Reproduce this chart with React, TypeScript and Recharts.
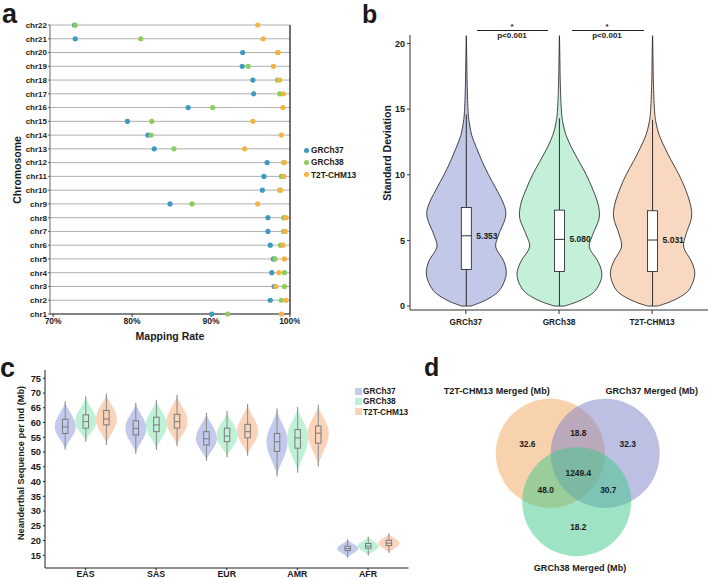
import React from 'react'
import { ScatterChart, Scatter, BarChart, Bar, XAxis, YAxis, CartesianGrid, ReferenceLine, Surface, Dot } from 'recharts'

const FONT = '"Liberation Sans", Arial, Helvetica, sans-serif'

// ---- panel a: mapping rate per chromosome ----
const chromosomes = ['chr1', 'chr2', 'chr3', 'chr4', 'chr5', 'chr6', 'chr7', 'chr8', 'chr9', 'chr10', 'chr11',
  'chr12', 'chr13', 'chr14', 'chr15', 'chr16', 'chr17', 'chr18', 'chr19', 'chr20', 'chr21', 'chr22']
const mapGRCh37 = [90.1, 97.5, 98.0, 97.7, 97.9, 97.5, 97.2, 97.2, 84.8, 96.5, 96.7, 97.1, 82.8, 82.0, 79.4, 87.1, 95.4, 95.3, 93.95, 94.0, 72.8, 72.7]
const mapGRCh38 = [92.1, 98.9, 99.3, 99.3, 98.1, 98.8, 99.2, 99.2, 87.6, 98.7, 98.9, 99.2, 85.3, 82.4, 82.5, 90.2, 98.7, 98.4, 94.7, 98.45, 81.1, 72.8]
const mapT2T = [98.9, 99.5, 98.2, 98.6, 99.3, 99.1, 99.4, 99.5, 95.9, 98.8, 99.2, 99.3, 94.25, 98.9, 95.3, 99.1, 99.15, 98.7, 97.9, 98.5, 96.6, 95.9]
const rateTicks = [70, 80, 90, 100]

// ---- panel b: standard deviation violins ----
const refNames = ['GRCh37', 'GRCh38', 'T2T-CHM13']
const sdQ1 = [2.79, 2.64, 2.64]
const sdMedian = [5.353, 5.08, 5.031]
const sdQ3 = [7.51, 7.31, 7.26]
const sdWhiskerHi = [14.6, 14.3, 14.2]
const sdMin = [0, 0, 0]
const sdMax = [20.6, 20.6, 20.6]
const sdGrid = [0, 0.3, 0.7, 1.2, 2, 2.7, 3.5, 4.5, 5.5, 6.5, 7.2, 8, 9, 10, 11, 12, 13, 14, 15, 17, 19, 20.6]
const sdDens37 = [0.11, 0.36, 0.6, 0.79, 0.92, 0.95, 0.88, 0.7, 0.78, 0.91, 0.94, 0.86, 0.7, 0.53, 0.38, 0.25, 0.13, 0.07, 0.04, 0.02, 0.01, 0]
const sdDens38 = [0.12, 0.4, 0.66, 0.86, 0.99, 1.0, 0.9, 0.71, 0.8, 0.93, 0.95, 0.9, 0.78, 0.64, 0.47, 0.3, 0.16, 0.08, 0.045, 0.02, 0.01, 0]
const sdDensT2T = [0.12, 0.4, 0.66, 0.86, 0.98, 1.0, 0.91, 0.74, 0.8, 0.91, 0.93, 0.88, 0.77, 0.63, 0.46, 0.3, 0.16, 0.08, 0.045, 0.02, 0.01, 0]
const sdTicks = [0, 5, 10, 15, 20]

// ---- panel c: neanderthal sequence per individual, [min, q1, median, q3, max] ----
const populations = ['EAS', 'SAS', 'EUR', 'AMR', 'AFR']
const neanGRCh37 = [[50.8, 56.3, 58.5, 61.1, 67.2], [49.4, 55.8, 58.0, 60.6, 66.7], [47.0, 52.4, 54.5, 56.9, 63.3], [41.7, 50.2, 53.5, 56.3, 64.7], [14.2, 16.6, 17.3, 18.1, 20.4]]
const neanGRCh38 = [[53.5, 58.1, 60.3, 62.6, 68.9], [50.7, 56.9, 59.2, 61.8, 67.7], [48.2, 53.5, 55.4, 58.1, 63.9], [43.0, 51.3, 54.8, 57.6, 65.3], [14.9, 17.4, 18.1, 19.0, 21.3]]
const neanT2T = [[52.4, 59.2, 61.2, 64.1, 69.8], [52.0, 58.1, 60.3, 62.8, 69.4], [48.7, 54.8, 56.9, 59.4, 66.3], [45.0, 53.0, 56.4, 58.8, 66.0], [15.8, 18.3, 19.1, 20.1, 22.4]]
const neanTicks = [15, 20, 25, 30, 35, 40, 45, 50, 55, 60, 65, 70, 75]

// ---- panel d: merged regions (Mb) ----
const vennSets = ['T2T-CHM13 Merged (Mb)', 'GRCh37 Merged (Mb)', 'GRCh38 Merged (Mb)']
const vennRegions = ['T2T only', 'T2T&37', '37 only', 'all', 'T2T&38', '37&38', '38 only']
const vennValues = ['32.6', '18.8', '32.3', '1249.4', '48.0', '30.7', '18.2']

const DOT_COLORS = ['#3d9bbf', '#8ccc5e', '#f5b342']
const VIOLIN_B = ['#c2c8e7', '#c4f0da', '#f9d8c1']
const VIOLIN_C = ['#c4caec', '#bff1d6', '#fad4ba']
const VENN_COLORS = ['#f2a65a', '#7b7fc8', '#3ec889']

const bold = (size: number) => ({ fontFamily: FONT, fontWeight: 700, fontSize: size, fill: '#1a1a1a' })

function smoothPath(pts: number[][]) {
  let d = `M${pts[0][0]},${pts[0][1]}`
  for (let i = 0; i < pts.length - 1; i++) {
    const p0 = pts[i - 1] || pts[i]
    const p1 = pts[i]
    const p2 = pts[i + 1]
    const p3 = pts[i + 2] || p2
    const c1x = p1[0] + (p2[0] - p0[0]) / 6
    const c1y = p1[1] + (p2[1] - p0[1]) / 6
    const c2x = p2[0] - (p3[0] - p1[0]) / 6
    const c2y = p2[1] - (p3[1] - p1[1]) / 6
    d += ` C${c1x},${c1y} ${c2x},${c2y} ${p2[0]},${p2[1]}`
  }
  return d + ' Z'
}

function Label({ x, y, size, text, rotate, align = 'center' }: any) {
  const tx = align === 'center' ? '-50%' : '0'
  return (
    <div style={{
      position: 'absolute', left: x, top: y, whiteSpace: 'nowrap', fontFamily: FONT, fontWeight: 700,
      fontSize: size, color: '#1a1a1a', lineHeight: 1,
      transform: `translate(${tx}, -50%)${rotate ? ' rotate(-90deg)' : ''}`,
      transformOrigin: align === 'center' ? 'center' : 'left center',
    }}>{text}</div>
  )
}

function PanelA() {
  const chrIndex = chromosomes.map((_, i) => i + 1)
  const series = [mapGRCh37, mapGRCh38, mapT2T].map((vals, s) => ({
    name: refNames[s],
    color: DOT_COLORS[s],
    data: vals.map((v, i) => ({ x: v, y: i + 1 })),
  }))
  return (
    <div style={{ position: 'absolute', left: 0, top: 0 }}>
      <ScatterChart width={300} height={345} margin={{ top: 25, right: 10, bottom: 11, left: 10 }}>
        <CartesianGrid vertical={false} stroke="#9a9a9a" strokeWidth={0.8} />
        <XAxis type="number" dataKey="x" domain={[69.6, 100]} ticks={rateTicks} tickFormatter={(v) => `${v}%`}
          height={20} tickSize={3} tickMargin={1} stroke="#333" tick={bold(8.5)} />
        <YAxis type="number" dataKey="y" domain={[1, 22]} ticks={chrIndex} interval={0} width={40}
          tickFormatter={(v) => chromosomes[v - 1]} tickSize={2} tickMargin={1} stroke="#666" tick={bold(8)} />
        <ReferenceLine x={100} stroke="#111" strokeWidth={1.2} />
        {series.map((s) => (
          <Scatter key={s.name} name={s.name} data={s.data} fill={s.color} isAnimationActive={false}
            shape={(p: any) => <circle cx={p.cx} cy={p.cy} r={2.6} fill={s.color} />} />
        ))}
      </ScatterChart>
      <Label x={170} y={336} size={10.5} text="Mapping Rate" />
      <Label x={17} y={170} size={10.5} text="Chromosome" rotate />
      {refNames.map((n, i) => (
        <React.Fragment key={n}>
          <div style={{ position: 'absolute', left: 304, top: 147.5 + i * 12.3, width: 5, height: 5, borderRadius: 3, background: DOT_COLORS[i] }} />
          <Label x={311} y={150 + i * 12.3} size={8.3} text={n} align="left" />
        </React.Fragment>
      ))}
    </div>
  )
}

function ViolinB(props: any) {
  const { x, y, width, height, payload, index } = props
  const lo = payload.range[0]
  const hi = payload.range[1]
  const py = (v: number) => y + ((hi - v) / (hi - lo)) * height
  const cx = x + width / 2
  const half = 42
  const dens = payload.density as number[]
  const right = sdGrid.map((v, i) => [cx + dens[i] * half, py(v)])
  const left = sdGrid.map((v, i) => [cx - dens[i] * half, py(v)]).reverse()
  const outline = smoothPath(right.concat(left.slice(1)))
  return (
    <g>
      <path d={outline} fill={VIOLIN_B[index]} stroke="#1a1a1a" strokeWidth={0.8} />
      <line x1={cx} x2={cx} y1={py(lo)} y2={py(payload.q1)} stroke="#1a1a1a" strokeWidth={0.9} />
      <line x1={cx} x2={cx} y1={py(payload.q3)} y2={py(payload.whisker)} stroke="#1a1a1a" strokeWidth={0.9} />
      <rect x={cx - 5} y={py(payload.q3)} width={10} height={py(payload.q1) - py(payload.q3)} fill="#fff" stroke="#1a1a1a" strokeWidth={0.8} />
      <line x1={cx - 5} x2={cx + 5} y1={py(payload.median)} y2={py(payload.median)} stroke="#1a1a1a" strokeWidth={0.9} />
      <text x={cx + 10} y={py(payload.median)} dominantBaseline="central" {...bold(8.5)}>{payload.median.toFixed(3)}</text>
    </g>
  )
}

function PanelB() {
  const dens = [sdDens37, sdDens38, sdDensT2T]
  const data = refNames.map((n, i) => ({
    name: n, range: [sdMin[i], sdMax[i]], q1: sdQ1[i], median: sdMedian[i], q3: sdQ3[i], whisker: sdWhiskerHi[i], density: dens[i],
  }))
  return (
    <div style={{ position: 'absolute', left: 330, top: 0 }}>
      <BarChart width={378} height={345} data={data} margin={{ top: 35, right: 0, bottom: 15, left: 50 }}>
        <XAxis dataKey="name" height={20} padding={{ left: 9.3, right: 9.3 }} tickSize={4} tickMargin={5} stroke="#333" tick={bold(8.3)} />
        <YAxis type="number" domain={[-0.3, 20.65]} ticks={sdTicks} width={30} tickSize={3} tickMargin={2} stroke="#333" tick={bold(9)} allowDataOverflow />
        <Bar dataKey="range" barSize={10} isAnimationActive={false} shape={ViolinB} />
      </BarChart>
      <svg style={{ position: 'absolute', left: 0, top: 0 }} width={378} height={60}>
        <line x1={147} x2={218} y1={30.5} y2={30.5} stroke="#222" strokeWidth={1} />
        <line x1={242} x2={314} y1={30.5} y2={30.5} stroke="#222" strokeWidth={1} />
        <text x={182} y={29} textAnchor="middle" {...bold(8)}>*</text>
        <text x={277} y={29} textAnchor="middle" {...bold(8)}>*</text>
        <text x={182} y={35} textAnchor="middle" dominantBaseline="central" {...bold(8)}>p&lt;0.001</text>
        <text x={277} y={35} textAnchor="middle" dominantBaseline="central" {...bold(8)}>p&lt;0.001</text>
      </svg>
      <Label x={57} y={153} size={10.5} text="Standard Deviation" rotate />
    </div>
  )
}

function makeViolinC(ref: number, key: string) {
  return (props: any) => {
    const { x, y, width, height, payload } = props
    const st = payload[key] as number[]
    const [mn, q1, med, q3, mx] = st
    const py = (v: number) => y + ((mx - v) / (mx - mn)) * height
    const cx = x + width / 2
    const half = 10.5
    const steps = 24
    const right: number[][] = []
    for (let k = 0; k <= steps; k++) {
      const v = mn + ((mx - mn) * k) / steps
      const t = v <= med ? (v - mn) / (med - mn) : (mx - v) / (mx - med)
      const w = Math.pow(Math.sin((Math.PI / 2) * Math.max(0, Math.min(1, t))), 1.6)
      right.push([cx + w * half, py(v)])
    }
    const left = right.map(([px, pyv]) => [2 * cx - px, pyv]).reverse()
    const outline = smoothPath(right.concat(left.slice(1, left.length - 1)))
    const bw = 5.5
    return (
      <g>
        <path d={outline} fill={VIOLIN_C[ref]} stroke="none" />
        <line x1={cx} x2={cx} y1={py(mn)} y2={py(q1)} stroke="#8a8a8a" strokeWidth={1} />
        <line x1={cx} x2={cx} y1={py(q3)} y2={py(mx)} stroke="#8a8a8a" strokeWidth={1} />
        <rect x={cx - bw / 2} y={py(q3)} width={bw} height={py(q1) - py(q3)} fill="none" stroke="#7a7a7a" strokeWidth={1} />
        <line x1={cx - bw / 2} x2={cx + bw / 2} y1={py(med)} y2={py(med)} stroke="#7a7a7a" strokeWidth={1} />
      </g>
    )
  }
}

function PanelC() {
  const data = populations.map((p, i) => ({
    pop: p,
    r37: [neanGRCh37[i][0], neanGRCh37[i][4]], s37: neanGRCh37[i],
    r38: [neanGRCh38[i][0], neanGRCh38[i][4]], s38: neanGRCh38[i],
    rT2T: [neanT2T[i][0], neanT2T[i][4]], sT2T: neanT2T[i],
  }))
  return (
    <div style={{ position: 'absolute', left: 0, top: 330 }}>
      <BarChart width={420} height={248} data={data} barSize={20} barGap={0.6} margin={{ top: 40, right: 11.5, bottom: 0, left: 8 }}>
        <XAxis dataKey="pop" height={10} padding={{ left: 5.2, right: 5.2 }} tickSize={2} tickMargin={1} stroke="#222" tick={bold(8.8)} />
        <YAxis type="number" domain={[10.7, 77.8]} ticks={neanTicks} interval={0} width={37} tickSize={2} tickMargin={2} stroke="#222" tick={bold(9.3)} allowDataOverflow />
        <Bar dataKey="r37" isAnimationActive={false} shape={makeViolinC(0, 's37')} />
        <Bar dataKey="r38" isAnimationActive={false} shape={makeViolinC(1, 's38')} />
        <Bar dataKey="rT2T" isAnimationActive={false} shape={makeViolinC(2, 'sT2T')} />
      </BarChart>
      <Label x={22} y={133} size={9.2} text="Neanderthal Sequence per Ind (Mb)" rotate />
      {refNames.map((n, i) => (
        <React.Fragment key={n}>
          <div style={{ position: 'absolute', left: 354.5, top: 57.5 + i * 10.4, width: 7, height: 7, background: VIOLIN_C[i] }} />
          <Label x={363} y={61 + i * 10.4} size={8.3} text={n} align="left" />
        </React.Fragment>
      ))}
    </div>
  )
}

// circle layout for the Venn diagram (pixels inside the panel)
const vennCircles = [{ cx: 150.3, cy: 123.3 }, { cx: 205.2, cy: 123.3 }, { cx: 176.7, cy: 171.7 }]
const vennRadius = 54.5
const vennLabelPos = [[127.3, 114], [178.3, 103.3], [227.7, 114.3], [178.3, 143.3], [145.7, 159.7], [208.3, 159.7], [178.3, 197.3]]
const vennTitlePos = [[96.7, 61], [251.7, 61], [180, 237.7]]

function PanelD() {
  return (
    <div style={{ position: 'absolute', left: 400, top: 330 }}>
      <Surface width={308} height={248}>
        {vennCircles.map((c, i) => (
          <Dot key={vennSets[i]} cx={c.cx} cy={c.cy} r={vennRadius} fill={VENN_COLORS[i]} fillOpacity={0.5} />
        ))}
        {vennValues.map((v, i) => (
          <text key={vennRegions[i]} x={vennLabelPos[i][0]} y={vennLabelPos[i][1]} textAnchor="middle" dominantBaseline="central" {...bold(8.4)}>{v}</text>
        ))}
        {vennSets.map((s, i) => (
          <text key={s} x={vennTitlePos[i][0]} y={vennTitlePos[i][1]} textAnchor="middle" dominantBaseline="central" {...bold(9.1)}>{s}</text>
        ))}
      </Surface>
    </div>
  )
}

export default function App() {
  return (
    <div style={{ position: 'fixed', left: 0, top: 0, width: 708, height: 578, background: '#fff', overflow: 'hidden' }}>
      <PanelA />
      <PanelB />
      <PanelC />
      <PanelD />
      <Label x={2} y={14} size={27} text="a" align="left" />
      <Label x={362} y={14} size={25} text="b" align="left" />
      <Label x={0} y={368} size={27} text="c" align="left" />
      <Label x={424} y={367} size={25} text="d" align="left" />
    </div>
  )
}
